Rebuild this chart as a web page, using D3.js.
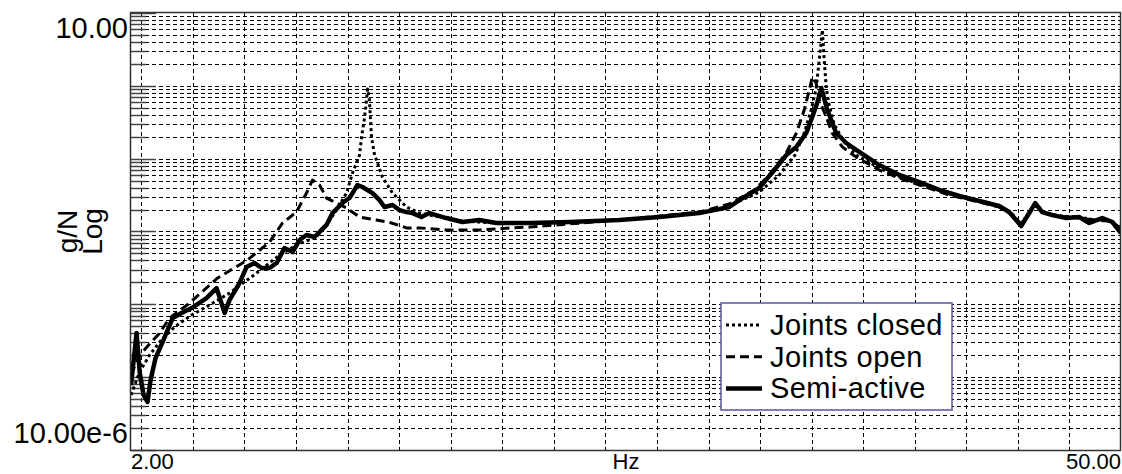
<!DOCTYPE html>
<html>
<head>
<meta charset="utf-8">
<script src="https://cdn.jsdelivr.net/npm/d3@7"></script>
<style>
  body { margin: 0; background: #fff; }
  svg { display: block; font-family: "Liberation Sans", Arial, sans-serif; }
</style>
</head>
<body>
<svg id="chart"></svg>
<script>
// [Hz, g/N]
const closedData = [
  [2.0, 5.69e-5], [2.42, 1.18e-4], [2.90, 2.01e-4], [3.39, 3.03e-4], [4.11, 4.88e-4],
  [4.94, 7.13e-4], [5.81, 9.79e-4], [6.78, 1.43e-3], [8.09, 2.69e-3], [9.20, 4.75e-3],
  [10.02, 6.52e-3], [10.99, 8.40e-3], [11.48, 0.0123], [11.96, 0.0197], [12.45, 0.0337],
  [12.74, 0.0635], [13.08, 0.112], [13.18, 0.198], [13.32, 0.361], [13.42, 0.639],
  [13.47, 0.904], [13.56, 0.639], [13.66, 0.198], [13.81, 0.112], [13.90, 0.0959],
  [14.19, 0.0560], [14.68, 0.0337], [15.36, 0.0217], [15.99, 0.0179], [16.47, 0.0168],
  [17.29, 0.0153], [18.07, 0.0139], [19.72, 0.0131], [21.32, 0.0131], [23.26, 0.0135],
  [25.68, 0.0144], [27.62, 0.0158], [29.55, 0.0179], [31.01, 0.0224], [32.46, 0.0348],
  [33.43, 0.0597], [34.19, 0.112], [34.64, 0.225], [34.98, 0.466], [35.22, 0.933],
  [35.37, 2.26], [35.47, 4.26], [35.52, 5.84], [35.61, 2.26], [35.71, 0.933],
  [35.85, 0.546], [36.10, 0.290], [36.59, 0.169], [37.16, 0.112], [38.28, 0.0745],
  [39.25, 0.0560], [40.22, 0.0449], [41.67, 0.0327], [43.13, 0.0262], [44.09, 0.0224],
  [44.67, 0.0179], [45.16, 0.0127], [45.55, 0.0185], [45.84, 0.0238], [46.28, 0.0185],
  [47.01, 0.0163], [47.97, 0.0158], [48.70, 0.0144], [49.43, 0.0139], [50.0, 0.0112]
];

const openData = [
  [2.0, 1.07e-4], [2.42, 2.01e-4], [2.90, 2.85e-4], [3.39, 4.04e-4], [3.87, 6.49e-4],
  [4.84, 1.04e-3], [6.20, 2.30e-3], [7.65, 4.06e-3], [8.72, 7.18e-3], [9.35, 0.0131],
  [10.02, 0.0185], [10.51, 0.0337], [10.80, 0.0509], [11.14, 0.0435], [11.48, 0.0288],
  [11.96, 0.0246], [12.45, 0.0210], [13.08, 0.0158], [13.90, 0.0144], [14.63, 0.0131],
  [15.36, 0.0112], [15.99, 0.0112], [17.29, 0.0105], [18.89, 0.0105], [20.49, 0.0112],
  [21.32, 0.0115], [23.26, 0.0127], [25.68, 0.0144], [27.62, 0.0163], [29.55, 0.0185],
  [31.01, 0.0238], [32.22, 0.0372], [32.95, 0.0597], [33.77, 0.120], [34.26, 0.225],
  [34.64, 0.466], [34.89, 0.877], [35.03, 1.32], [35.22, 1.09], [35.37, 0.639],
  [35.71, 0.373], [36.00, 0.225], [36.49, 0.145], [37.16, 0.105], [38.28, 0.0698],
  [39.25, 0.0542], [40.22, 0.0435], [41.67, 0.0317], [43.13, 0.0254], [44.09, 0.0217],
  [44.67, 0.0174], [45.16, 0.0127], [45.55, 0.0185], [45.84, 0.0231], [46.28, 0.0179],
  [47.01, 0.0163], [47.97, 0.0153], [48.70, 0.0144], [49.43, 0.0139], [50.0, 0.0112]
];

const semiData = [
  [2.0, 7.80e-5], [2.13, 1.72e-4], [2.27, 4.04e-4], [2.42, 1.18e-4], [2.61, 5.69e-5],
  [2.80, 4.56e-5], [2.95, 9.14e-5], [3.19, 1.83e-4], [3.53, 3.03e-4], [4.02, 6.49e-4],
  [4.45, 7.60e-4], [4.94, 8.90e-4], [5.66, 1.22e-3], [6.15, 1.67e-3], [6.54, 7.60e-4],
  [6.78, 1.15e-3], [7.26, 1.96e-3], [7.60, 3.25e-3], [7.99, 3.69e-3], [8.33, 3.15e-3],
  [8.72, 3.15e-3], [9.06, 3.69e-3], [9.44, 5.93e-3], [9.83, 5.22e-3], [10.17, 7.64e-3],
  [10.51, 8.95e-3], [10.90, 8.40e-3], [11.24, 0.0105], [11.48, 0.0123], [11.77, 0.0179],
  [12.25, 0.0246], [12.59, 0.0288], [12.74, 0.0337], [12.98, 0.0435], [13.22, 0.0408],
  [13.71, 0.0337], [14.05, 0.0270], [14.29, 0.0217], [14.68, 0.0231], [15.02, 0.0197],
  [15.36, 0.0185], [15.65, 0.0179], [16.08, 0.0158], [16.47, 0.0179], [17.29, 0.0153],
  [18.07, 0.0135], [18.89, 0.0144], [19.72, 0.0131], [21.32, 0.0131], [23.26, 0.0135],
  [25.68, 0.0144], [27.62, 0.0158], [29.55, 0.0179], [31.01, 0.0217], [31.49, 0.0270],
  [32.46, 0.0395], [33.19, 0.0698], [33.77, 0.112], [34.26, 0.145], [34.74, 0.225],
  [35.03, 0.373], [35.27, 0.581], [35.47, 0.933], [35.76, 0.466], [35.95, 0.340],
  [36.19, 0.225], [36.68, 0.164], [37.16, 0.132], [38.28, 0.0818], [39.25, 0.0597],
  [40.22, 0.0478], [41.19, 0.0372], [42.16, 0.0307], [43.13, 0.0262], [44.09, 0.0224],
  [44.58, 0.0185], [45.16, 0.0119], [45.55, 0.0179], [45.84, 0.0246], [46.18, 0.0185],
  [46.67, 0.0168], [47.34, 0.0153], [47.97, 0.0158], [48.46, 0.0131], [49.09, 0.0153],
  [49.58, 0.0135], [50.0, 9.53e-3]
];

const seriesNames = ['Joints closed', 'Joints open', 'Semi-active'];
const xDomain = [2, 50];
const yDomain = [1e-5, 10];
const xTickLabels = ['2.00', '50.00'];
const yTickLabels = ['10.00e-6', '10.00'];
const xTitle = 'Hz';
const yTitle = ['g/N', 'Log'];

class FrfChart {

    constructor( config, series ){
        this.config = {
            parent: config.parent,
            width: config.width || 1122,
            height: config.height || 474,
            margin: config.margin || {top:13, right:1, bottom:24, left:131},
        }
        this.series = series;
        this.init();
    }

    init(){
        let self = this;

        self.svg = d3.select( self.config.parent )
            .attr('width', self.config.width)
            .attr('height', self.config.height);

        self.inner_width = self.config.width - self.config.margin.left - self.config.margin.right;
        self.inner_height = self.config.height - self.config.margin.top - self.config.margin.bottom;

        self.xscale = d3.scaleLinear()
            .domain( xDomain )
            .range( [self.config.margin.left, self.config.margin.left + self.inner_width] );

        self.yscale = d3.scaleLog()
            .domain( yDomain )
            .range( [self.config.margin.top + self.inner_height, self.config.margin.top] );

        self.line = d3.line()
            .x( d => self.xscale(d[0]) )
            .y( d => self.yscale(d[1]) );
    }

    render(){
        let self = this;
        const x0 = self.xscale.range()[0], x1 = self.xscale.range()[1];
        const y0 = self.yscale.range()[0], y1 = self.yscale.range()[1];

        // log grid: 1..9 in each decade
        const yGrid = [];
        for (let e = -5; e <= 0; e++)
            for (let m = 1; m <= 9; m++) yGrid.push(m * Math.pow(10, e));
        const xGrid = d3.range(2.5, 49.9, 2.5);

        const grid = self.svg.append('g')
            .attr('stroke', '#000')
            .attr('stroke-width', 1)
            .attr('stroke-dasharray', '4,3');

        grid.selectAll('.hg')
            .data(yGrid.filter(v => v > 1e-5))
            .enter()
            .append('line')
            .attr('x1', x0).attr('x2', x1)
            .attr('y1', d => Math.round(self.yscale(d)) + 0.5)
            .attr('y2', d => Math.round(self.yscale(d)) + 0.5);

        grid.selectAll('.vg')
            .data(xGrid)
            .enter()
            .append('line')
            .attr('y1', y1).attr('y2', y0)
            .attr('x1', d => Math.round(self.xscale(d)) + 0.5)
            .attr('x2', d => Math.round(self.xscale(d)) + 0.5);

        // inner ticks on the left side
        self.svg.append('g')
            .selectAll('line')
            .data(yGrid.concat([10]))
            .enter()
            .append('line')
            .attr('x1', x0)
            .attr('x2', d => x0 + (Math.abs(Math.log10(d) - Math.round(Math.log10(d))) < 1e-9 ? 25 : 15))
            .attr('y1', d => Math.round(self.yscale(d)) + 0.5)
            .attr('y2', d => Math.round(self.yscale(d)) + 0.5)
            .attr('stroke', '#444')
            .attr('stroke-width', 1.5);

        // series
        const styles = [
            {width: 3, dash: '3,3'},
            {width: 3, dash: '9,5'},
            {width: 4.5, dash: null}
        ];

        self.svg.append('defs').append('clipPath').attr('id', 'clip')
            .append('rect')
            .attr('x', x0).attr('y', y1)
            .attr('width', x1 - x0).attr('height', y0 - y1);

        self.svg.append('g')
            .attr('clip-path', 'url(#clip)')
            .selectAll('path')
            .data(self.series)
            .enter()
            .append('path')
            .attr('d', d => self.line(d))
            .attr('fill', 'none')
            .attr('stroke', '#000')
            .attr('stroke-width', (d, i) => styles[i].width)
            .attr('stroke-dasharray', (d, i) => styles[i].dash)
            .attr('stroke-linejoin', 'round');

        // frame
        self.svg.append('rect')
            .attr('x', x0 - 0.5).attr('y', y1 - 0.5)
            .attr('width', x1 - x0).attr('height', y0 - y1 + 1)
            .attr('fill', 'none')
            .attr('stroke', '#333')
            .attr('stroke-width', 1.5);

        // axis labels
        self.svg.append('text')
            .attr('x', x0 - 3).attr('y', y0 - 7)
            .attr('text-anchor', 'end')
            .attr('font-size', 29)
            .text(yTickLabels[0]);
        self.svg.append('text')
            .attr('x', x0 - 3).attr('y', y1 + 25)
            .attr('text-anchor', 'end')
            .attr('font-size', 29)
            .text(yTickLabels[1]);

        self.svg.append('text')
            .attr('x', x0).attr('y', 469)
            .attr('font-size', 22)
            .text(xTickLabels[0]);
        self.svg.append('text')
            .attr('x', x1).attr('y', 469)
            .attr('text-anchor', 'end')
            .attr('font-size', 22)
            .text(xTickLabels[1]);
        self.svg.append('text')
            .attr('x', (x0 + x1) / 2).attr('y', 469)
            .attr('text-anchor', 'middle')
            .attr('font-size', 22)
            .text(xTitle);

        const ymid = (y0 + y1) / 2;
        yTitle.forEach((t, i) => {
            self.svg.append('text')
                .attr('transform', `translate(${77 + i * 25}, ${ymid}) rotate(-90)`)
                .attr('text-anchor', 'middle')
                .attr('font-size', 28)
                .text(t);
        });

        // legend
        const lg = self.svg.append('g').attr('transform', 'translate(721, 303)');
        lg.append('rect')
            .attr('width', 231).attr('height', 107)
            .attr('fill', '#fff')
            .attr('stroke', '#55559a')
            .attr('stroke-width', 1.5);
        seriesNames.forEach((name, i) => {
            const cy = 22 + i * 31.7;
            lg.append('line')
                .attr('x1', 5).attr('x2', 41)
                .attr('y1', cy).attr('y2', cy)
                .attr('stroke', '#000')
                .attr('stroke-width', styles[i].width)
                .attr('stroke-dasharray', styles[i].dash);
            lg.append('text')
                .attr('x', 49).attr('y', cy + 10)
                .attr('font-size', 29)
                .attr('letter-spacing', 0.4)
                .text(name);
        });
    }
}

const chart = new FrfChart({parent: '#chart'}, [closedData, openData, semiData]);
chart.render();
</script>
</body>
</html>
